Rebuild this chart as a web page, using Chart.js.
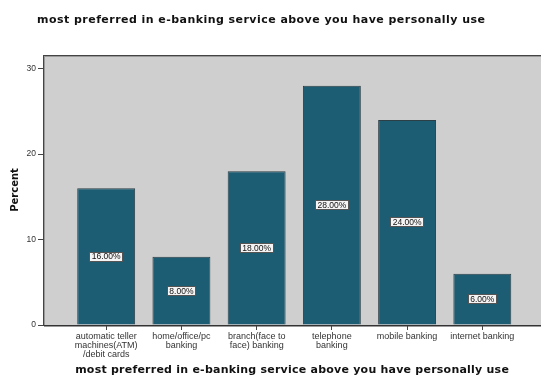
<!DOCTYPE html>
<html>
<head>
<meta charset="utf-8">
<script src="https://cdn.jsdelivr.net/npm/chart.js@4/dist/chart.umd.min.js"></script>
<style>
  html, body { margin: 0; padding: 0; background: #fff; }
  #wrap { width: 541px; height: 383px; position: relative; }
</style>
</head>
<body>
<div id="wrap"><canvas id="c"></canvas></div>
<script>
// Survey categories (multi-line axis labels)
const categories = [
  ['automatic teller', 'machines(ATM)', '/debit cards'],
  ['home/office/pc', 'banking'],
  ['branch(face to', 'face) banking'],
  ['telephone', 'banking'],
  ['mobile banking'],
  ['internet banking']
];
// Percent of respondents per category
const percents = [16, 8, 18, 28, 24, 6];
const yTicks = [0, 10, 20, 30];
const chartTitle = 'most preferred in e-banking service above you have personally use';
const xTitle = 'most preferred in e-banking service above you have personally use';
const yTitle = 'Percent';

const FONT = '"Liberation Sans", Arial, sans-serif';
const BOLD_FONT = '"DejaVu Sans", Verdana, sans-serif';

// Gray plot panel with a dark frame
const panelPlugin = {
  id: 'panel',
  beforeDraw(chart) {
    const { ctx, chartArea: a } = chart;
    ctx.save();
    ctx.fillStyle = '#cfcfcf';
    ctx.fillRect(a.left, a.top, a.right - a.left, a.bottom - a.top);
    ctx.strokeStyle = '#9a9a9a';
    ctx.lineWidth = 1;
    ctx.strokeRect(a.left + 1.5, a.top + 1.5, a.right - a.left, a.bottom - a.top);
    ctx.strokeStyle = '#444';
    ctx.beginPath();
    ctx.moveTo(a.left + 0.5, a.bottom);
    ctx.lineTo(a.left + 0.5, a.top + 0.5);
    ctx.lineTo(a.right, a.top + 0.5);
    ctx.stroke();
    ctx.restore();
  }
};

// Fit a bold line of text to a given width, centred at (cx, cy)
function drawFitted(ctx, text, cx, cy, width) {
  ctx.save();
  ctx.font = 'bold 11px ' + BOLD_FONT;
  const natural = ctx.measureText(text).width;
  const extra = (width - natural) / (text.length - 1);
  ctx.letterSpacing = extra.toFixed(2) + 'px';
  ctx.fillStyle = '#111';
  ctx.textAlign = 'center';
  ctx.textBaseline = 'middle';
  ctx.fillText(text, cx + extra / 2, cy);
  ctx.restore();
}

// Chart title across the top and axis title under the category labels
const titlePlugin = {
  id: 'titles',
  afterDraw(chart) {
    const { ctx, chartArea: a } = chart;
    drawFitted(ctx, chartTitle, 261, 20, 448);
    drawFitted(ctx, xTitle, (a.left + a.right) / 2, 370, 434);
  }
};

// Value boxes in the middle of each bar
const valueLabels = {
  id: 'valueLabels',
  afterDatasetsDraw(chart) {
    const { ctx } = chart;
    const meta = chart.getDatasetMeta(0);
    const ys = chart.scales.y;
    ctx.save();
    ctx.font = '8.5px ' + FONT;
    ctx.textAlign = 'center';
    ctx.textBaseline = 'middle';
    meta.data.forEach((bar, i) => {
      const v = percents[i];
      const txt = v.toFixed(2) + '%';
      const cy = ys.getPixelForValue(v / 2);
      const w = Math.round(ctx.measureText(txt).width + 5);
      const h = 10;
      const bx = Math.round(bar.x - w / 2), by = Math.round(cy - h / 2);
      ctx.fillStyle = '#f4f4f4';
      ctx.fillRect(bx, by, w, h);
      ctx.strokeStyle = '#555';
      ctx.lineWidth = 1;
      ctx.strokeRect(bx + 0.5, by + 0.5, w - 1, h - 1);
      ctx.fillStyle = '#111';
      ctx.fillText(txt, bar.x, cy + 0.5);
    });
    ctx.restore();
  }
};

new Chart(document.getElementById('c'), {
  type: 'bar',
  data: {
    datasets: [{
      data: percents.map((v, i) => ({ x: i, y: v })),
      backgroundColor: '#1d5d74',
      borderColor: '#2c3f47',
      borderWidth: 1,
      barPercentage: 0.77,
      categoryPercentage: 1
    }]
  },
  options: {
    responsive: true,
    maintainAspectRatio: false,
    animation: false,
    layout: { padding: { top: 55, right: 0, bottom: 0, left: 0 } },
    plugins: {
      legend: { display: false },
      tooltip: { enabled: false }
    },
    scales: {
      x: {
        type: 'linear',
        offset: false,
        min: -0.84,
        max: 5.78,
        afterFit(s) { s.height = 58; },
        grid: { display: true, offset: false, drawOnChartArea: false, drawTicks: true, tickLength: 5, color: '#444' },
        border: { display: true, color: '#333', width: 1 },
        ticks: {
          stepSize: 1,
          includeBounds: false,
          autoSkip: false,
          maxRotation: 0,
          padding: 2,
          color: '#333',
          font: { family: FONT, size: 9, lineHeight: 1.0 },
          callback(v) {
            return Number.isInteger(v) && categories[v] ? categories[v] : '';
          }
        },
        title: { display: false }
      },
      y: {
        min: 0,
        max: 31.6,
        afterFit(s) { s.width = 43; },
        afterBuildTicks(s) { s.ticks = yTicks.map(v => ({ value: v })); },
        grid: { display: true, drawOnChartArea: false, drawTicks: true, tickLength: 5, color: '#444' },
        border: { display: true, color: '#444', width: 1 },
        ticks: {
          padding: 2,
          color: '#333',
          font: { family: FONT, size: 8.5 }
        },
        title: {
          display: true,
          text: yTitle,
          color: '#111',
          font: { family: BOLD_FONT, size: 10, weight: 'bold' },
          padding: { top: 9, bottom: 0 }
        }
      }
    }
  },
  plugins: [panelPlugin, titlePlugin, valueLabels]
});
</script>
</body>
</html>
